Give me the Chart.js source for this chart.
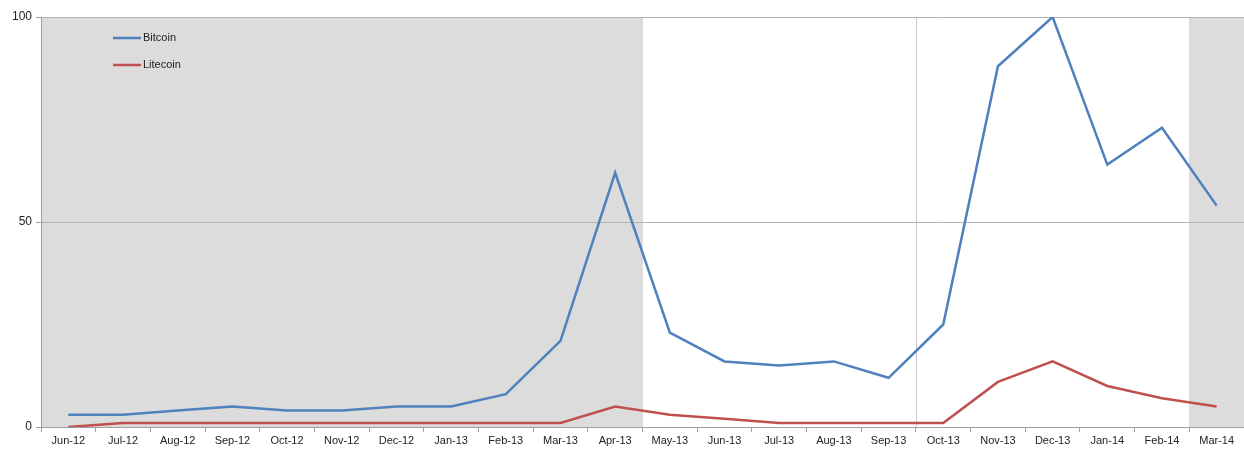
<!DOCTYPE html>
<html>
<head>
<meta charset="utf-8">
<script src="https://cdn.jsdelivr.net/npm/chart.js@4/dist/chart.umd.min.js"></script>
<style>
  html, body { margin: 0; padding: 0; background: #fff; }
  #wrap { width: 1244px; height: 451px; position: relative; }
</style>
</head>
<body>
<div id="wrap"><canvas id="myChart"></canvas></div>
<script>
// Meses (eje x)
const months = ["Jun-12", "Jul-12", "Aug-12", "Sep-12", "Oct-12", "Nov-12", "Dec-12", "Jan-13", "Feb-13", "Mar-13", "Apr-13",
  "May-13", "Jun-13", "Jul-13", "Aug-13", "Sep-13", "Oct-13", "Nov-13", "Dec-13", "Jan-14", "Feb-14", "Mar-14"];

// Valores
const bitcoin = [3, 3, 4, 5, 4, 4, 5, 5, 8, 21, 62, 23, 16, 15, 16, 12, 25, 88, 100, 64, 73, 54];
const litecoin = [0, 1, 1, 1, 1, 1, 1, 1, 1, 1, 5, 3, 2, 1, 1, 1, 1, 11, 16, 10, 7, 5];

const yTicks = [0, 50, 100];

// Meses con fondo gris y linea vertical divisoria
const shadedMonths = ["Jun-12", "Jul-12", "Aug-12", "Sep-12", "Oct-12", "Nov-12", "Dec-12", "Jan-13", "Feb-13", "Mar-13", "Apr-13", "Mar-14"];
const dividerBefore = "Oct-13";

const fontFamily = "'Liberation Sans', Arial, sans-serif";

// Fondo gris por meses y linea divisoria
const bandsPlugin = {
  id: "bands",
  beforeDraw(chart) {
    const { ctx, chartArea, scales } = chart;
    const x = scales.x;
    const half = (x.getPixelForValue(1) - x.getPixelForValue(0)) / 2;
    ctx.save();
    ctx.fillStyle = "#dcdcdc";
    shadedMonths.forEach((m) => {
      const c = x.getPixelForValue(months.indexOf(m));
      const l = Math.round(c - half);
      const r = Math.min(Math.round(c + half), Math.round(chartArea.right));
      ctx.fillRect(l, chartArea.top, r - l, chartArea.bottom - chartArea.top);
    });
    const d = x.getPixelForValue(months.indexOf(dividerBefore)) - half;
    ctx.strokeStyle = "#c8c8c8";
    ctx.lineWidth = 1;
    ctx.beginPath();
    ctx.moveTo(Math.round(d) + 0.5, chartArea.top);
    ctx.lineTo(Math.round(d) + 0.5, chartArea.bottom);
    ctx.stroke();
    ctx.restore();
  }
};

// Leyenda dentro del area del grafico
const legendPlugin = {
  id: "insideLegend",
  afterDraw(chart) {
    const { ctx, chartArea } = chart;
    ctx.save();
    ctx.font = "11px " + fontFamily;
    ctx.textBaseline = "middle";
    chart.data.datasets.forEach((ds, i) => {
      const y = chartArea.top + 21 + i * 27;
      const x0 = chartArea.left + 72;
      ctx.strokeStyle = ds.borderColor;
      ctx.lineWidth = 2.5;
      ctx.beginPath();
      ctx.moveTo(x0, y);
      ctx.lineTo(x0 + 28, y);
      ctx.stroke();
      ctx.fillStyle = "#222";
      ctx.fillText(ds.label, x0 + 30, y);
    });
    ctx.restore();
  }
};

const config = {
  type: "line",
  data: {
    labels: months,
    datasets: [
      {
        label: "Bitcoin",
        data: bitcoin,
        borderColor: "#4f81bd",
        borderWidth: 2.5,
        pointRadius: 0,
        tension: 0
      },
      {
        label: "Litecoin",
        data: litecoin,
        borderColor: "#c0504d",
        borderWidth: 2.5,
        pointRadius: 0,
        tension: 0
      }
    ]
  },
  options: {
    responsive: true,
    maintainAspectRatio: false,
    animation: false,
    layout: { padding: { top: 17, right: 0, left: 0, bottom: 0 } },
    plugins: {
      legend: { display: false },
      tooltip: { enabled: false }
    },
    scales: {
      x: {
        offset: true,
        grid: {
          offset: true,
          drawOnChartArea: false,
          tickLength: 5,
          tickColor: "#a0a0a0"
        },
        border: { color: "#a0a0a0" },
        ticks: {
          autoSkip: false,
          maxRotation: 0,
          color: "#222",
          font: { family: fontFamily, size: 11 },
          padding: 2
        },
        afterFit(scale) { scale.height = 24; }
      },
      y: {
        min: 0,
        max: 100,
        afterBuildTicks(scale) { scale.ticks = yTicks.map((v) => ({ value: v })); },
        grid: {
          color: "#b4b4b4",
          tickLength: 5,
          tickColor: "#a0a0a0"
        },
        border: { color: "#a0a0a0" },
        ticks: {
          color: "#222",
          font: { family: fontFamily, size: 12 },
          padding: 4
        },
        afterFit(scale) { scale.width = 41; }
      }
    }
  },
  plugins: [bandsPlugin, legendPlugin]
};

const myChart = new Chart(document.querySelector("#myChart"), config);
</script>
</body>
</html>
